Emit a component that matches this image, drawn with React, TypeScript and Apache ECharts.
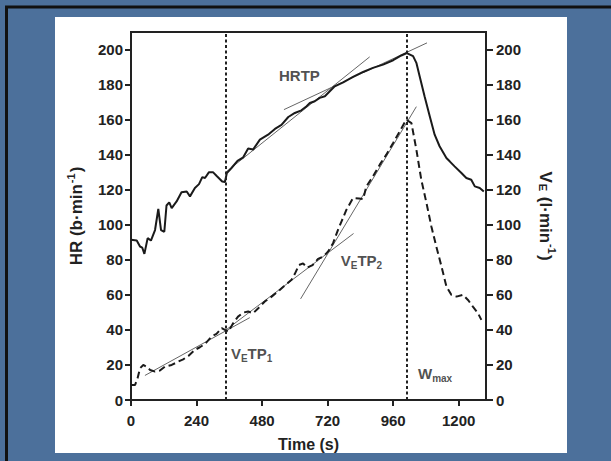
import React, { useEffect, useRef } from "react";
import * as echarts from "echarts";

// ---------- data ----------
const timeTicks = [0, 240, 480, 720, 960, 1200];
const yTicks = [0, 20, 40, 60, 80, 100, 120, 140, 160, 180, 200];

const hrTime = [0, 21, 33, 41, 49, 61, 73, 88, 100, 110, 122, 130, 140, 149, 167, 185, 204, 216, 234, 249, 261, 271, 285, 301, 313, 334, 344, 351, 368, 390, 411, 429, 447, 472, 502, 527, 551, 576, 600, 624, 643, 655, 673, 691, 710, 728, 746, 777, 813, 850, 886, 923, 960, 990, 1010, 1033, 1045, 1057, 1075, 1094, 1112, 1130, 1155, 1167, 1185, 1210, 1228, 1246, 1259, 1277, 1292];
const hrValues = [91.4, 91, 87.6, 87, 83.4, 92.4, 91, 97, 109, 97, 96, 111, 112.8, 109.5, 113.3, 118.5, 119, 116.2, 121, 123.2, 127.2, 126.7, 129.9, 129.9, 128, 124.7, 124.4, 129.5, 132.4, 136.5, 138.5, 143.5, 142.9, 148.6, 151.4, 154.7, 157, 161.5, 163.8, 165.3, 167.6, 169.5, 170.5, 172.4, 173.3, 176.2, 179, 181.3, 184.4, 187.2, 189.5, 191.4, 193.9, 196.6, 198, 196.2, 192.4, 184.8, 173.3, 161.9, 151.4, 144.8, 138.1, 136.2, 133.3, 129.5, 126.7, 125.7, 121.9, 121, 119];

const veTime = [0, 15, 24, 33, 45, 57, 70, 88, 106, 124, 149, 173, 191, 210, 234, 252, 271, 295, 313, 332, 344, 356, 374, 392, 411, 429, 447, 466, 490, 515, 539, 561, 588, 600, 615, 630, 645, 665, 685, 705, 722, 740, 758, 771, 789, 813, 835, 850, 862, 886, 911, 935, 960, 984, 1008, 1027, 1045, 1063, 1082, 1100, 1118, 1137, 1155, 1173, 1192, 1216, 1234, 1252, 1271, 1283];
const veValues = [8.6, 8.6, 12.4, 18.1, 20, 19, 17.1, 16.2, 16.8, 19, 20, 21.9, 23.2, 25.1, 28.6, 30.1, 32, 36.2, 37.7, 41, 40, 39, 43.8, 47.6, 49.9, 50.5, 49.5, 52.4, 56.2, 59, 62, 65, 68.6, 72, 77, 78, 75.5, 77, 80.5, 82, 84.8, 89.5, 97.1, 101.9, 108.6, 115.2, 115, 114.7, 121.9, 127.6, 134.3, 140, 146.7, 153.3, 160, 158, 142.9, 125.7, 112.4, 99, 87.6, 76.2, 64.8, 60, 59, 60, 57.1, 53.3, 49.5, 45.7];

// regression (tangent) lines: [time, value] end points
const fitHR1 = [[347, 130], [874, 195.8]];
const fitHR2 = [[560, 165.7], [1084, 203.8]];
const fitVE1 = [[51, 14], [435, 47]];
const fitVE2 = [[348, 40], [815, 95]];
const fitVE3 = [[621, 57.7], [1045, 167.4]];

const thresholdTimes = [346, 1008];

const annotationNames = ["HRTP", "VETP2", "VETP1", "Wmax"];
const annotationTexts = ["{b|HRTP}", "{b|V}{s|E}{b|TP}{s|2}", "{b|V}{s|E}{b|TP}{s|1}", "{b|W}{s|max}"];
const annotationTime = [542, 768, 366, 1051];
const annotationValue = [184.6, 78.9, 25.7, 14.3];

// ---------- styles ----------
const FONT = "'Liberation Sans', Arial, Helvetica, sans-serif";
const INK = "#222222";

const subRich = {
  b: { fontSize: 15, fontWeight: "bold", color: INK, fontFamily: FONT, padding: [0, 0, 2, 0], verticalAlign: "top" },
  s: { fontSize: 10, fontWeight: "bold", color: INK, fontFamily: FONT, verticalAlign: "bottom" },
};
const nameRich = {
  b: { fontSize: 17, fontWeight: "bold", color: INK, fontFamily: FONT, padding: [3, 0, 0, 0], verticalAlign: "bottom" },
  s: { fontSize: 11, fontWeight: "bold", color: INK, fontFamily: FONT, verticalAlign: "bottom", padding: [0, 1, 0, 1] },
  p: { fontSize: 11, fontWeight: "bold", color: INK, fontFamily: FONT, verticalAlign: "top", padding: [0, 1, 0, 1] },
};

function zip(ts: number[], vs: number[]) {
  return ts.map((t, i) => [t, vs[i]]);
}

export default function App() {
  const ref = useRef<HTMLDivElement>(null);
  useEffect(() => {
    if (!ref.current) return;
    const chart = echarts.init(ref.current, undefined, { renderer: "svg" });

    const axisLine = { show: true, onZero: false, lineStyle: { color: INK, width: 2 } };
    const tickStyle = { color: INK, width: 2 };
    const labelStyle = {
      color: INK,
      fontSize: 15,
      fontWeight: "bold",
      fontFamily: FONT,
      formatter: (v: number) => String(v),
    };

    const fitSeries = [fitHR1, fitHR2, fitVE1, fitVE2, fitVE3].map((d, i) => ({
      type: "line",
      name: "fit" + i,
      yAxisIndex: i < 2 ? 0 : 1,
      data: d,
      showSymbol: false,
      symbol: "none",
      silent: true,
      z: 3,
      lineStyle: { color: "#666666", width: 1 },
    }));

    chart.setOption({
      animation: false,
      backgroundColor: "#4c709b",
      graphic: [
        { type: "rect", z: -10, shape: { x: 55, y: 17, width: 512, height: 436 }, style: { fill: "#ffffff" } },
        { type: "polyline", z: -9, shape: { points: [[6.5, 461], [6.5, 7], [611, 7]] }, style: { stroke: "#111111", lineWidth: 3, fill: null } },
      ],
      grid: { left: 131, right: 125, top: 32, bottom: 61, show: true, borderColor: INK, borderWidth: 2 },
      xAxis: {
        type: "value",
        min: 0,
        max: 1300,
        interval: 240,
        name: "Time (s)",
        nameLocation: "middle",
        nameGap: 36,
        nameTextStyle: { color: INK, fontSize: 16, fontWeight: "bold", fontFamily: FONT },
        axisLine,
        axisTick: { show: true, length: 6, lineStyle: tickStyle, customValues: timeTicks },
        axisLabel: { ...labelStyle, margin: 13, customValues: timeTicks },
        splitLine: { show: false },
      },
      yAxis: [
        {
          type: "value",
          position: "left",
          min: 0,
          max: 210,
          interval: 20,
          name: "{b|HR (b·min}{p|-1}{b|)}",
          nameLocation: "middle",
          nameRotate: 90,
          nameGap: 46,
          nameTextStyle: { rich: nameRich },
          axisLine,
          axisTick: { show: true, length: 6, lineStyle: tickStyle, customValues: yTicks },
          axisLabel: { ...labelStyle, margin: 8, customValues: yTicks },
          splitLine: { show: false },
        },
        {
          type: "value",
          position: "right",
          min: 0,
          max: 210,
          interval: 20,
          name: "{b|V}{s|E}{b| (l·min}{p|-1}{b|)}",
          nameLocation: "middle",
          nameRotate: -90,
          nameGap: 51,
          nameTextStyle: { rich: nameRich },
          axisLine,
          axisTick: { show: true, length: 7, lineStyle: tickStyle, customValues: yTicks },
          axisLabel: { ...labelStyle, margin: 10, customValues: yTicks },
          splitLine: { show: false },
        },
      ],
      series: [
        {
          type: "line",
          name: "HR",
          yAxisIndex: 0,
          data: zip(hrTime, hrValues),
          showSymbol: false,
          symbol: "none",
          z: 4,
          lineStyle: { color: "#1a1a1a", width: 2 },
          markLine: {
            silent: true,
            symbol: ["none", "none"],
            label: { show: false },
            lineStyle: { color: INK, width: 2, type: [3, 2.5] },
            data: thresholdTimes.map((t) => ({ xAxis: t })),
          },
        },
        {
          type: "line",
          name: "VE",
          yAxisIndex: 1,
          data: zip(veTime, veValues),
          showSymbol: false,
          symbol: "none",
          z: 4,
          lineStyle: { color: "#1a1a1a", width: 2, type: [7, 4] },
        },
        ...fitSeries,
        {
          type: "scatter",
          name: "labels",
          yAxisIndex: 0,
          symbolSize: 0,
          silent: true,
          data: annotationNames.map((n, i) => ({ name: n, value: [annotationTime[i], annotationValue[i]] })),
          label: {
            show: true,
            position: "right",
            distance: 0,
            formatter: (p: any) => annotationTexts[p.dataIndex],
            rich: subRich,
          },
        },
      ],
    });
    return () => chart.dispose();
  }, []);
  return <div ref={ref} style={{ position: "absolute", left: 0, top: 0, width: 611, height: 461 }} />;
}
